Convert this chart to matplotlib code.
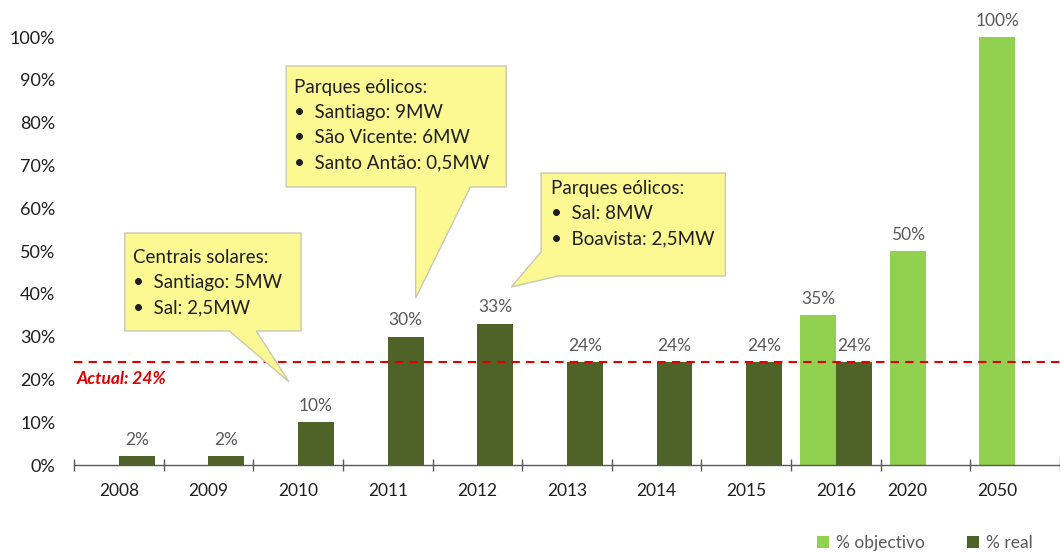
import matplotlib
matplotlib.use("Agg")
import matplotlib.pyplot as plt
from matplotlib.patches import Polygon, Patch
import numpy as np

plt.rcParams['font.family'] = ['Lato', 'DejaVu Sans']

# ---- data ----
categories = ["2008", "2009", "2010", "2011", "2012", "2013", "2014", "2015", "2016", "2020", "2050"]
objectivo = [None, None, None, None, None, None, None, None, 35, 50, 100]
real = [2, 2, 10, 30, 33, 24, 24, 24, 24, None, None]
actual_level = 24
legend_labels = ["% objectivo", "% real"]
yticks = [0, 10, 20, 30, 40, 50, 60, 70, 80, 90, 100]

callout_texts = [
    ["Centrais solares:", "•  Santiago: 5MW", "•  Sal: 2,5MW"],
    ["Parques eólicos:", "•  Santiago: 9MW", "•  São Vicente: 6MW", "•  Santo Antão: 0,5MW"],
    ["Parques eólicos:", "•  Sal: 8MW", "•  Boavista: 2,5MW"],
]

# ---- style ----
c_obj = "#92D050"
c_real = "#4F6228"
c_yellow = "#FCF993"
c_edge = "#C8C8B4"
c_red = "#E00000"
c_lab = "#595959"
c_text = "#1E1E1E"

W, H = 1060, 553
fig = plt.figure(figsize=(W / 100, H / 100), dpi=100)
ax_left, ax_bottom = 74, 553 - 465
ax = fig.add_axes([ax_left / W, ax_bottom / H, (W - ax_left) / W, 428 / H])

n = len(categories)
x = np.arange(n)
bw = 0.4
ax.set_xlim(-0.5, -0.5 + (W - ax_left) / 90)
ax.set_ylim(0, 100)

for i in range(n):
    if objectivo[i] is not None:
        ax.bar(x[i] - bw / 2, objectivo[i], bw, color=c_obj, zorder=2)
        ax.annotate(f"{objectivo[i]}%", (x[i] - bw / 2, objectivo[i]), xytext=(0, 6),
                    textcoords="offset points", ha="center", va="bottom",
                    fontsize=12.5, color=c_lab)
    if real[i] is not None:
        ax.bar(x[i] + bw / 2, real[i], bw, color=c_real, zorder=2)
        ax.annotate(f"{real[i]}%", (x[i] + bw / 2, real[i]), xytext=(0, 6),
                    textcoords="offset points", ha="center", va="bottom",
                    fontsize=12.5, color=c_lab)

# tick label positions: centered on category unless only one bar present
label_pos = []
for i in range(n):
    if objectivo[i] is not None and real[i] is None:
        label_pos.append(x[i] - bw / 2)
    else:
        label_pos.append(x[i])
ax.set_xticks(label_pos)
ax.set_xticklabels(categories, fontsize=12.5, color=c_text)
ax.tick_params(axis="x", which="major", length=0, pad=13)
ax.set_xticks(np.arange(n + 1) - 0.5, minor=True)
ax.tick_params(axis="x", which="minor", direction="inout", length=9, width=1, color="#595959")

ax.set_yticks(yticks)
ax.set_yticklabels([f"{v}%" for v in yticks], fontsize=13, color=c_text)
ax.tick_params(axis="y", length=0, pad=13.5)

for s in ["top", "right", "left"]:
    ax.spines[s].set_visible(False)
ax.spines["bottom"].set_color("#595959")
ax.spines["bottom"].set_linewidth(1.0)

# Actual line
ax.axhline(actual_level, color=c_red, linestyle=(0, (4, 3)), linewidth=1.5, zorder=3)
ax.annotate(f"Actual: {actual_level}%", (-0.47, actual_level), xytext=(0, -6),
            textcoords="offset points", ha="left", va="top", fontsize=12.5,
            color=c_red, fontweight="bold", fontstyle="italic")


def px2d(px, py):
    return ((px - ax_left) / 90 - 0.5, (465 - py) / 4.28)


callout_shapes = [
    [(125, 233), (302, 233), (302, 331), (257, 331), (290, 382), (230, 331), (125, 331)],
    [(287, 66), (508, 66), (508, 187), (472, 187), (417, 298), (417, 187), (287, 187)],
    [(543, 173), (728, 173), (728, 276), (560, 276), (513, 287), (543, 252)],
]
text_anchor = [(133, 249), (295, 79), (553, 180)]

for shape, lines, (tx, ty) in zip(callout_shapes, callout_texts, text_anchor):
    pts = [px2d(*p) for p in shape]
    poly = Polygon(pts, closed=True, facecolor=c_yellow, edgecolor=c_edge,
                   linewidth=1.0, zorder=5, clip_on=False)
    ax.add_patch(poly)
    for k, line in enumerate(lines):
        xd, yd = px2d(tx, ty + k * 25)
        ax.text(xd, yd, line, fontsize=13.5, color=c_text, ha="left", va="top",
                zorder=6, clip_on=False)

handles = [Patch(facecolor=c_obj, edgecolor="none"), Patch(facecolor=c_real, edgecolor="none")]
fig.legend(handles, legend_labels, loc="center right",
           bbox_to_anchor=(1048 / W, 1 - 543 / H), ncol=2, frameon=False,
           fontsize=12.5, handlelength=0.7, handleheight=0.7, handletextpad=0.4,
           columnspacing=2.4, labelcolor=c_lab)

fig.savefig("out.png", dpi=100, facecolor="white")
